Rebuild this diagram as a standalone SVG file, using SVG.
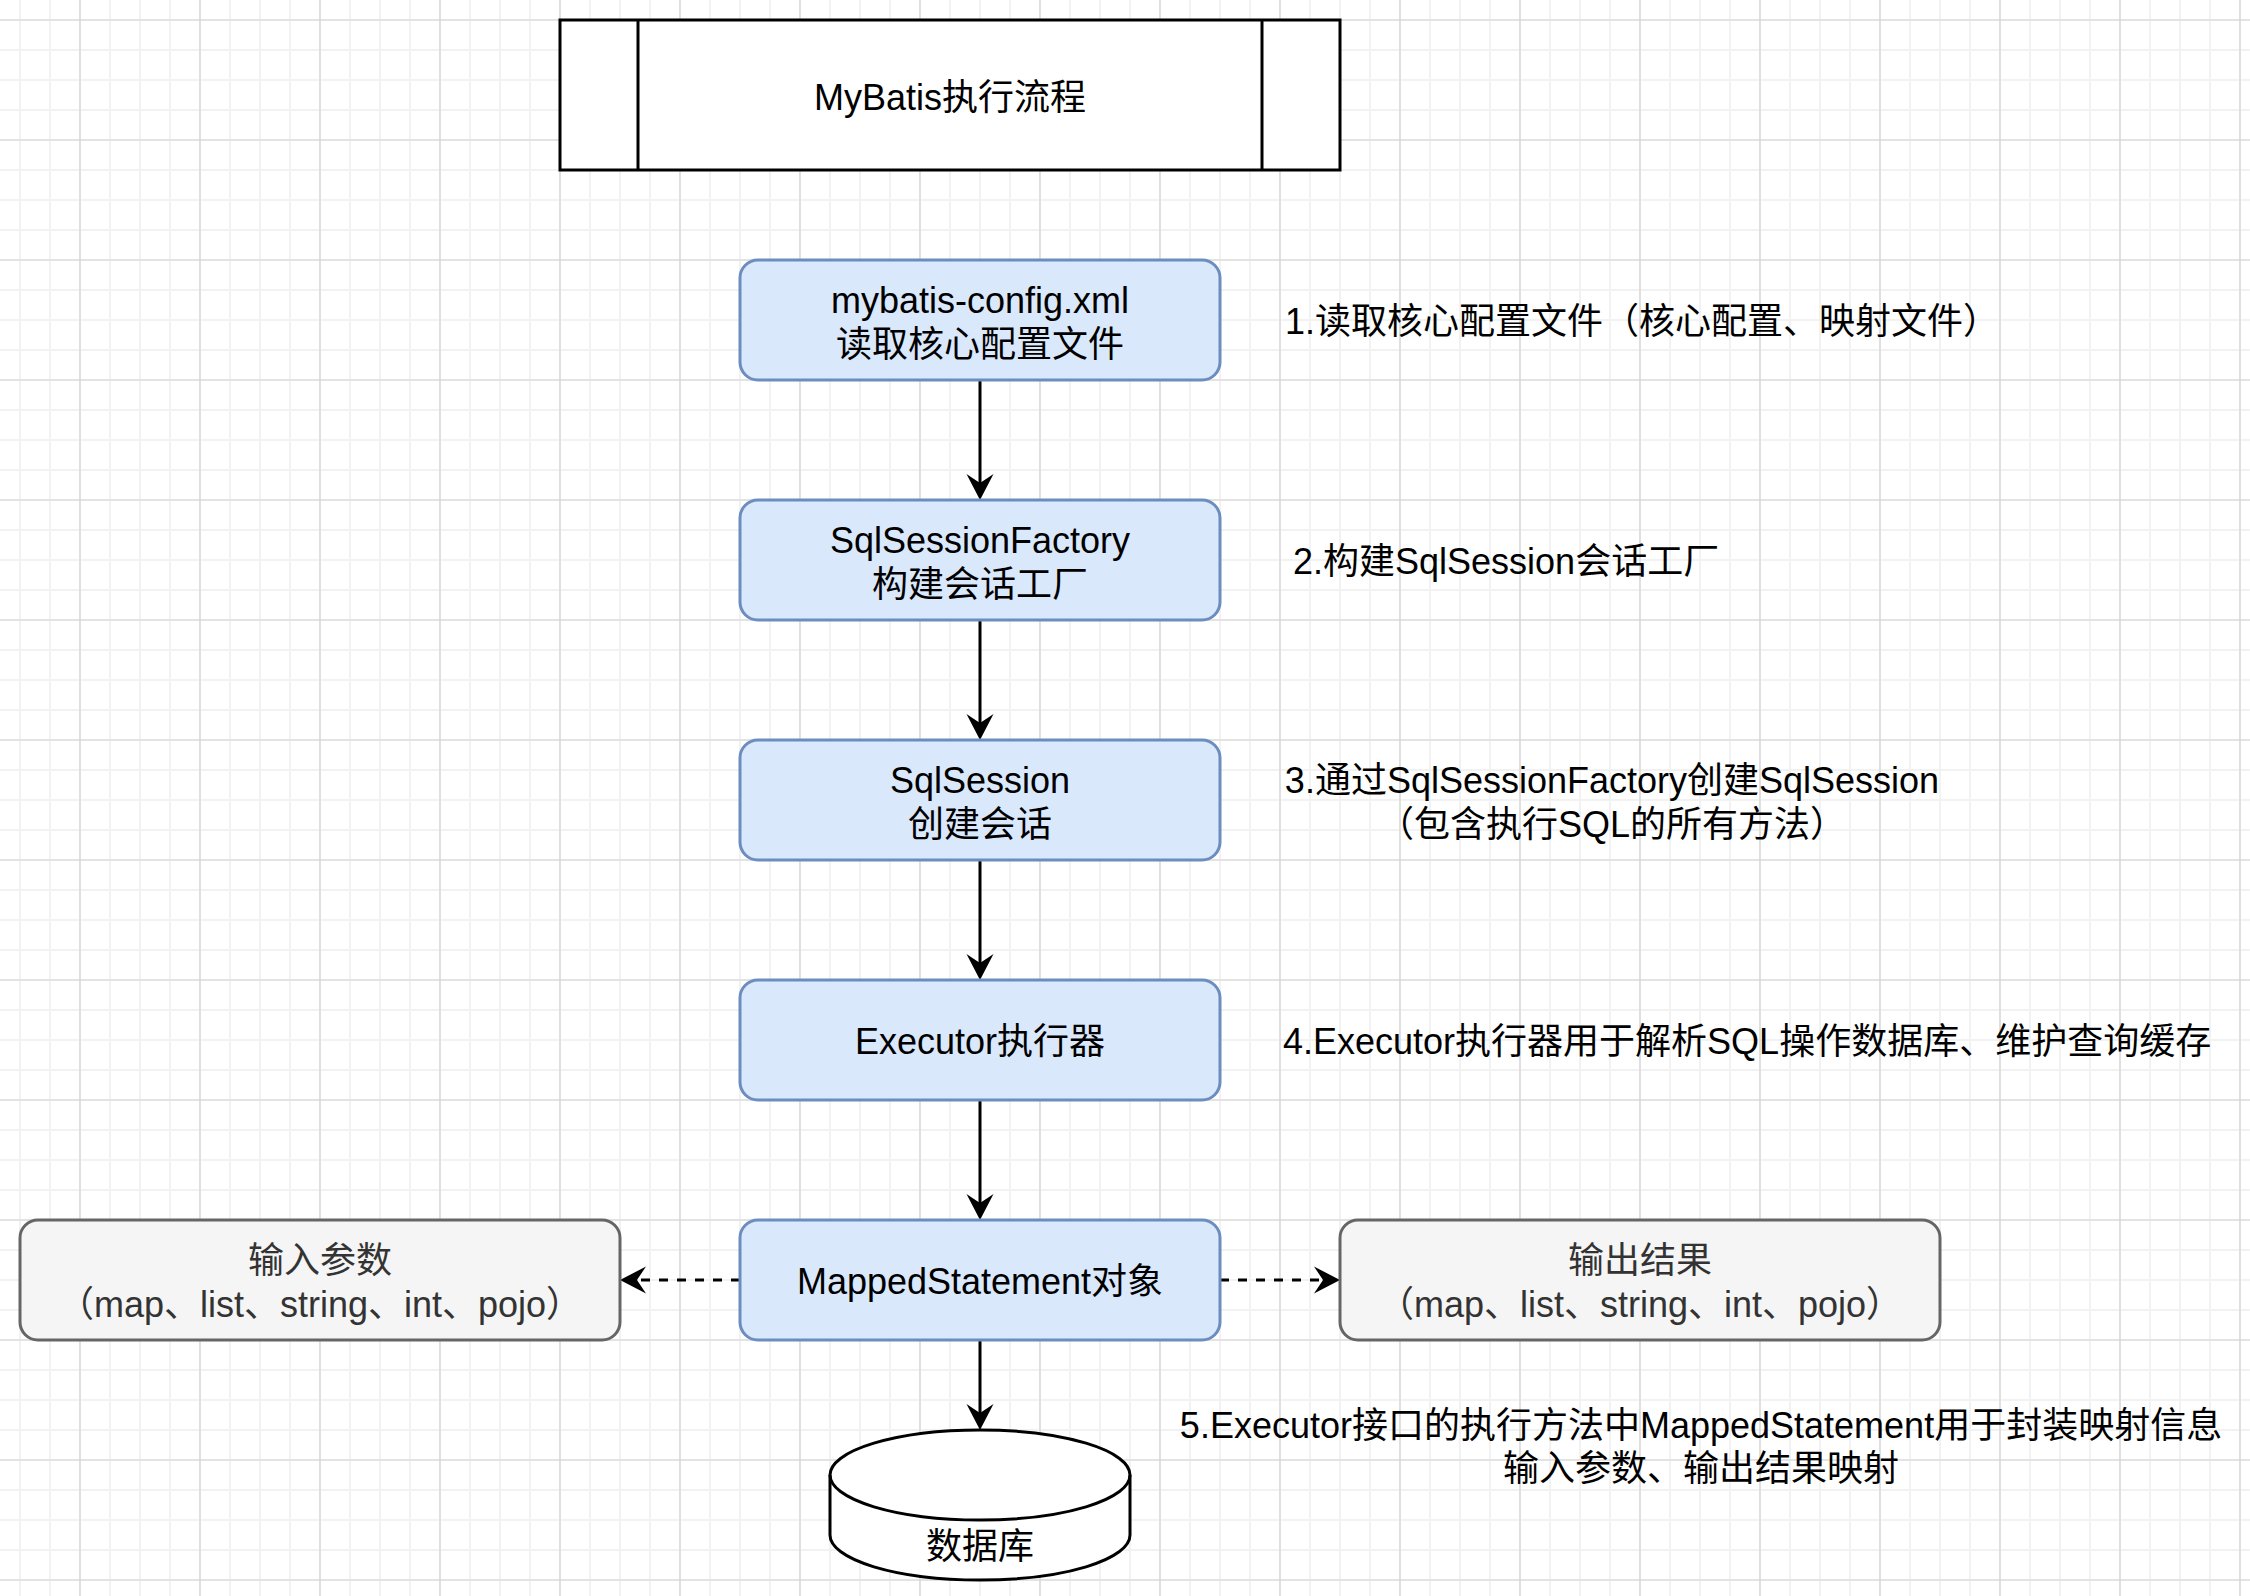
<svg xmlns="http://www.w3.org/2000/svg" width="2250" height="1596" viewBox="0 0 2250 1596">
<defs>
<pattern id="gridMinor" x="5" y="5" width="30" height="30" patternUnits="userSpaceOnUse"><path d="M15 0V30M0 15H30" stroke="#f2f2f2" stroke-width="2" fill="none"/></pattern>
<pattern id="gridMajor" x="20" y="-40" width="120" height="120" patternUnits="userSpaceOnUse"><path d="M60 0V120M0 60H120" stroke="#d3d3d3" stroke-width="1.2" fill="none"/></pattern>
<marker id="arrow" markerUnits="userSpaceOnUse" markerWidth="30" markerHeight="30" viewBox="0 0 30 30" refX="9" refY="15" orient="auto"><path d="M0 1.5L26 15L0 28.5L9 15Z" fill="#000"/></marker>
</defs>
<style>
text{font-family:"Liberation Sans","Noto Sans CJK SC",sans-serif;font-size:36px;fill:#000}
.c{text-anchor:middle}
.blue{fill:#dae8fc;stroke:#6c8ebf;stroke-width:3}
.gray{fill:#f5f5f5;stroke:#666666;stroke-width:3}
.gray-t{fill:#333333}
.plain{fill:#ffffff;stroke:#000000;stroke-width:3}
.edge{fill:none;stroke:#000;stroke-width:3;marker-end:url(#arrow)}
.dash{stroke-dasharray:9 9}
</style>
<rect width="2250" height="1596" fill="#ffffff"/>
<rect width="2250" height="1596" fill="url(#gridMinor)"/>
<rect width="2250" height="1596" fill="url(#gridMajor)"/>

<g id="title">
<rect class="plain" x="560" y="20" width="780" height="150"/>
<path d="M638 20V170M1262 20V170" stroke="#000" stroke-width="3"/>
<text class="c" x="950" y="110">MyBatis执行流程</text>
</g>

<g id="connectors">
<path class="edge" d="M980 380V483"/>
<path class="edge" d="M980 620V723"/>
<path class="edge" d="M980 860V963"/>
<path class="edge" d="M980 1100V1203"/>
<path class="edge" d="M980 1340V1413"/>
<path class="edge dash" d="M740 1280H637"/>
<path class="edge dash" d="M1220 1280H1323"/>
</g>

<g id="config">
<rect class="blue" x="740" y="260" width="480" height="120" rx="18"/>
<text class="c" x="980" y="313">mybatis-config.xml</text>
<text class="c" x="980" y="356.5">读取核心配置文件</text>
</g>
<g id="factory">
<rect class="blue" x="740" y="500" width="480" height="120" rx="18"/>
<text class="c" x="980" y="553">SqlSessionFactory</text>
<text class="c" x="980" y="596.5">构建会话工厂</text>
</g>
<g id="session">
<rect class="blue" x="740" y="740" width="480" height="120" rx="18"/>
<text class="c" x="980" y="793">SqlSession</text>
<text class="c" x="980" y="836.5">创建会话</text>
</g>
<g id="executor">
<rect class="blue" x="740" y="980" width="480" height="120" rx="18"/>
<text class="c" x="980" y="1054">Executor执行器</text>
</g>
<g id="mapped">
<rect class="blue" x="740" y="1220" width="480" height="120" rx="18"/>
<text class="c" x="980" y="1294">MappedStatement对象</text>
</g>
<g id="input">
<rect class="gray" x="20" y="1220" width="600" height="120" rx="18"/>
<text class="c gray-t" x="320" y="1273">输入参数</text>
<text class="c gray-t" x="320" y="1316.5">（map、list、string、int、pojo）</text>
</g>
<g id="output">
<rect class="gray" x="1340" y="1220" width="600" height="120" rx="18"/>
<text class="c gray-t" x="1640" y="1273">输出结果</text>
<text class="c gray-t" x="1640" y="1316.5">（map、list、string、int、pojo）</text>
</g>
<g id="database">
<path class="plain" d="M830 1475A150 45 0 0 1 1130 1475V1535A150 45 0 0 1 830 1535Z"/>
<path d="M830 1475A150 45 0 0 0 1130 1475" fill="none" stroke="#000" stroke-width="3"/>
<text class="c" x="980" y="1559">数据库</text>
</g>

<g id="notes">
<text x="1285" y="334">1.读取核心配置文件（核心配置、映射文件）</text>
<text x="1293" y="574">2.构建SqlSession会话工厂</text>
<text class="c" x="1612" y="793">3.通过SqlSessionFactory创建SqlSession</text>
<text class="c" x="1612" y="836.5">（包含执行SQL的所有方法）</text>
<text x="1283" y="1054">4.Executor执行器用于解析SQL操作数据库、维护查询缓存</text>
<text class="c" x="1701" y="1437.5">5.Executor接口的执行方法中MappedStatement用于封装映射信息</text>
<text class="c" x="1701" y="1481">输入参数、输出结果映射</text>
</g>
</svg>
